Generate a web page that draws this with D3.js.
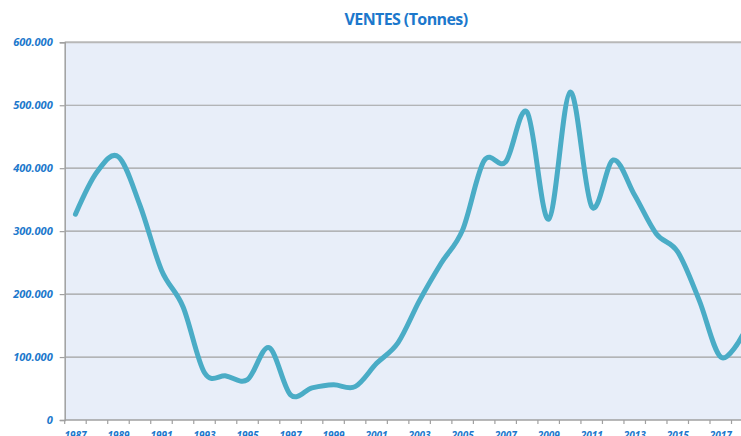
<!DOCTYPE html>
<html>
<head>
<meta charset="utf-8">
<script src="https://cdn.jsdelivr.net/npm/d3@7"></script>
<style>
  body { margin: 0; background: #fff; }
  svg { display: block; }
</style>
</head>
<body>
<svg id="chart" width="741" height="436"></svg>
<script>
// years and sales (tonnes)
const years = d3.range(1987, 2019);
const sales = [327000, 394000, 418000, 341000, 238000, 180000, 75000, 70000, 64000, 115000,
  40000, 51000, 56000, 53000, 90000, 123000, 190000, 249000, 302000, 412000,
  410000, 489000, 319000, 521000, 339000, 413000, 357000, 296000, 267000, 190000,
  100000, 134000];
const yTicks = [0, 100000, 200000, 300000, 400000, 500000, 600000];
const xLabels = d3.range(1987, 2019, 2);

const data = years.map((yr, i) => ({ year: yr, value: sales[i] }));

const svg = d3.select("#chart");
const plotLeft = 64.7, plotTop = 42.3, plotBottom = 420;
const bandW = 21.51;
const plotRight = plotLeft + bandW * years.length;

const x = d3.scaleBand()
  .domain(years)
  .range([plotLeft, plotRight]);

const y = d3.scaleLinear()
  .domain([0, 600000])
  .range([plotBottom, plotTop]);

const blue = "#1c78cc";

// title
svg.append("text")
  .attr("x", 406)
  .attr("y", 25)
  .attr("text-anchor", "middle")
  .style("font-family", "'Open Sans', sans-serif")
  .style("font-weight", "bold")
  .style("font-size", "16px")
  .style("letter-spacing", "-0.6px")
  .style("fill", blue)
  .text("VENTES (Tonnes)");

// plot background
svg.append("rect")
  .attr("x", plotLeft)
  .attr("y", plotTop)
  .attr("width", plotRight - plotLeft)
  .attr("height", plotBottom - plotTop)
  .style("fill", "#e8eef9");

// grid lines
svg.append("g")
  .selectAll("line")
  .data(yTicks.filter(d => d > 0))
  .enter()
  .append("line")
  .attr("x1", plotLeft)
  .attr("x2", plotRight)
  .attr("y1", d => y(d))
  .attr("y2", d => y(d))
  .style("stroke", d => d === 600000 ? "#b8b8b8" : "#a0a0a0")
  .style("stroke-width", d => d === 600000 ? 2 : 1.2);

// Y axis
const yAxis = svg.append("g")
  .attr("transform", "translate(" + plotLeft + ",0)")
  .call(d3.axisLeft(y).tickValues(yTicks).tickSize(5).tickPadding(7)
    .tickFormat(d => d === 0 ? "0" : d3.format(",")(d).replace(/,/g, ".")));
yAxis.select(".domain").style("stroke", "#a0a0a0").style("stroke-width", 1.5);
yAxis.selectAll(".tick line").style("stroke", "#a0a0a0").style("stroke-width", 1.2);
yAxis.selectAll("text")
  .style("font-family", "'Open Sans', sans-serif")
  .style("font-size", "11px")
  .style("font-style", "italic")
  .style("font-weight", "bold")
  .style("fill", blue);

// X axis
const xAxis = svg.append("g")
  .attr("transform", "translate(0," + plotBottom + ")");
xAxis.append("line")
  .attr("x1", plotLeft).attr("x2", plotRight)
  .style("stroke", "#a0a0a0").style("stroke-width", 1.5);
xAxis.selectAll("line.tk")
  .data(years.concat([years[years.length - 1] + 1]))
  .enter()
  .append("line")
  .attr("class", "tk")
  .attr("x1", (d, i) => plotLeft + i * x.step())
  .attr("x2", (d, i) => plotLeft + i * x.step())
  .attr("y1", 0).attr("y2", 4)
  .style("stroke", "#a0a0a0").style("stroke-width", 1.2);
xAxis.selectAll("text")
  .data(xLabels)
  .enter()
  .append("text")
  .attr("x", d => x(d) + x.bandwidth() / 2)
  .attr("y", 19)
  .attr("text-anchor", "middle")
  .style("font-family", "'Open Sans', sans-serif")
  .style("font-size", "10px")
  .style("font-style", "italic")
  .style("font-weight", "bold")
  .style("fill", blue)
  .text(d => d);

// line
const line = d3.line()
  .x(d => x(d.year) + x.bandwidth() / 2)
  .y(d => y(d.value))
  .curve(d3.curveCardinal.tension(0));

svg.append("path")
  .datum(data)
  .attr("d", line)
  .style("fill", "none")
  .style("stroke", "#4aacc6")
  .style("stroke-width", 5)
  .style("stroke-linecap", "round")
  .style("stroke-linejoin", "round");
</script>
</body>
</html>
